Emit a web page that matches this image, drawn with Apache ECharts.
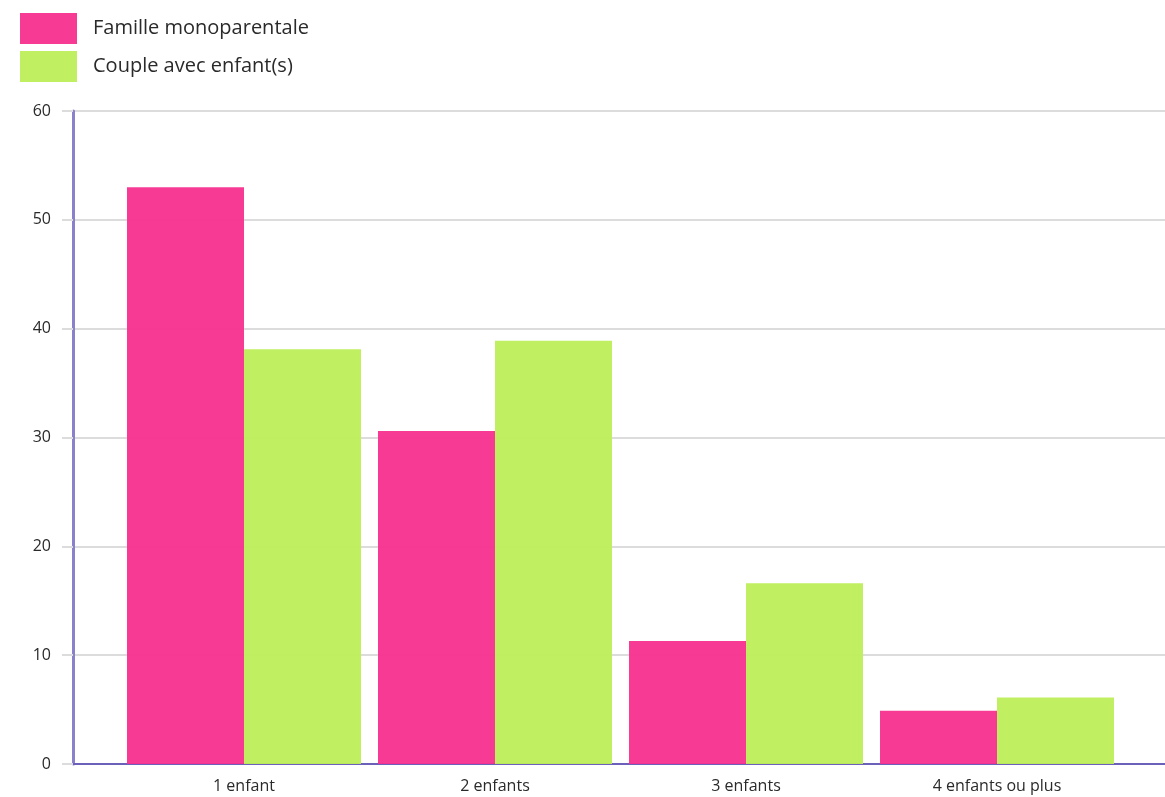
<!DOCTYPE html>
<html>
<head>
<meta charset="utf-8">
<script src="https://cdn.jsdelivr.net/npm/echarts@6/dist/echarts.min.js"></script>
<style>
  html, body { margin: 0; padding: 0; background: #fff; }
  #chart { width: 1165px; height: 797px; }
</style>
</head>
<body>
<div id="chart"></div>
<script>
const categories = ['1 enfant', '2 enfants', '3 enfants', '4 enfants ou plus']
const seriesNames = ['Famille monoparentale', 'Couple avec enfant(s)']
const monoparentale = [53, 30.6, 11.3, 4.9]
const couple = [38.1, 38.9, 16.6, 6.1]

const font = '"Open Sans", "Noto Sans", sans-serif'
const purple = '#8a81cc'

let chart = echarts.init(document.getElementById('chart'))
let option = {
  animation: false,
  textStyle: { fontFamily: font },
  legend: {
    orient: 'vertical',
    left: 15,
    top: 8,
    itemWidth: 57,
    itemHeight: 31,
    itemGap: 7,
    icon: 'rect',
    data: seriesNames,
    textStyle: { fontSize: 20, color: '#2a2a2a', fontFamily: font, padding: [0, 0, 0, 11] }
  },
  grid: [
    { left: 118.5, right: 42.5, top: 111, bottom: 33 },
    { left: 73, right: 0, top: 111, bottom: 33 }
  ],
  xAxis: [
    {
      type: 'category',
      gridIndex: 0,
      data: categories,
      axisLine: { show: false },
      axisTick: { show: false },
      axisLabel: { fontSize: 16, color: '#2a2a2a', margin: 14, fontFamily: font }
    },
    {
      type: 'value',
      gridIndex: 1,
      min: 0,
      max: 1,
      axisLine: { show: true, lineStyle: { color: '#6b60ba', width: 2 } },
      axisTick: { show: false },
      axisLabel: { show: false },
      splitLine: { show: false }
    }
  ],
  yAxis: [
    {
      type: 'value',
      gridIndex: 0,
      min: 0,
      max: 60,
      interval: 10,
      show: false
    },
    {
      type: 'value',
      gridIndex: 1,
      min: 0,
      max: 60,
      interval: 10,
      axisLine: { show: true, lineStyle: { color: purple, width: 3 } },
      axisTick: { show: true, length: 11, lineStyle: { color: '#dcdcdc', width: 2 } },
      axisLabel: { fontSize: 16, color: '#2a2a2a', margin: 22, fontFamily: font },
      splitLine: { show: true, lineStyle: { color: '#dcdcdc', width: 2 } }
    }
  ],
  series: [
    {
      name: seriesNames[0],
      type: 'bar',
      xAxisIndex: 0,
      yAxisIndex: 0,
      barWidth: 117,
      barGap: '0%',
      data: monoparentale,
      itemStyle: { color: '#f7308e', opacity: 0.95 }
    },
    {
      name: seriesNames[1],
      type: 'bar',
      xAxisIndex: 0,
      yAxisIndex: 0,
      barWidth: 117,
      barGap: '0%',
      data: couple,
      itemStyle: { color: '#bdee5a', opacity: 0.95 }
    }
  ]
}
chart.setOption(option)
</script>
</body>
</html>
